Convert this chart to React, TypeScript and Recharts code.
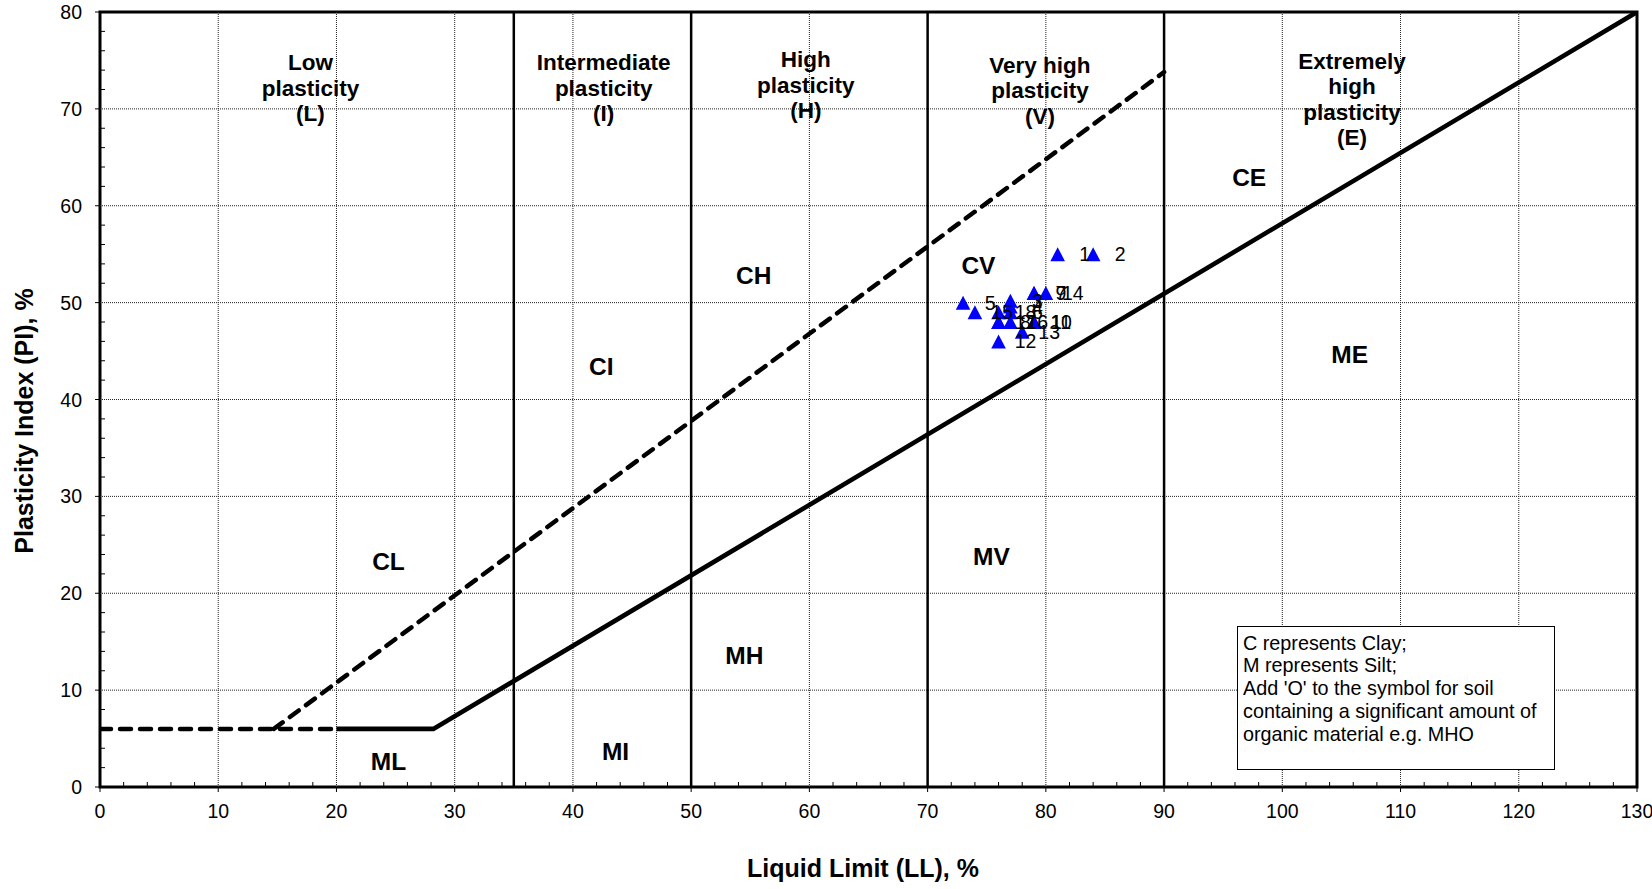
import React from 'react';
import {
  ComposedChart,
  XAxis,
  YAxis,
  Line,
  Scatter,
  ReferenceLine,
  ReferenceArea,
  Label,
} from 'recharts';

const W = 1652;
const H = 889;
const FONT = '"Liberation Sans", Arial, Helvetica, sans-serif';

// ---- axes ----
const xMajorTicks = [0, 10, 20, 30, 40, 50, 60, 70, 80, 90, 100, 110, 120, 130];
const yMajorTicks = [0, 10, 20, 30, 40, 50, 60, 70, 80];
const xAllTicks = Array.from({ length: 66 }, (_, i) => i * 2); // minor every 2
const yAllTicks = Array.from({ length: 41 }, (_, i) => i * 2);
const xGrid = [10, 20, 30, 40, 60, 80, 100, 110, 120];
const yGrid = [10, 20, 30, 40, 50, 60, 70];

// ---- plasticity zone boundaries (LL) ----
const zoneBoundaries = [35, 50, 70, 90];

// ---- chart lines (LL, PI) ----
const lowDashedLL = [0, 20];
const lowDashedPI = [6, 6];
const uLineLL = [14.7, 90];
const uLinePI = [6, 73.8];
const aLineLL = [20, 28.2, 130];
const aLinePI = [6, 6, 80];

// ---- samples ----
const sampleIds = [1, 2, 3, 4, 5, 6, 7, 8, 9, 10, 11, 12, 13, 14, 15, 16, 17, 18];
const sampleLL = [81, 84, 77, 77, 73, 77, 79, 76, 79, 79, 79, 76, 78, 80, 74, 77, 76, 76];
const samplePI = [55, 55, 50.2, 49.6, 50, 49, 51, 48, 51, 48, 48, 46, 47, 51, 49, 48, 48, 49];

// ---- zone headers ----
const headerText = [
  ['Low', 'plasticity', '(L)'],
  ['Intermediate', 'plasticity', '(I)'],
  ['High', 'plasticity', '(H)'],
  ['Very high', 'plasticity', '(V)'],
  ['Extremely', 'high', 'plasticity', '(E)'],
];
const headerLL = [17.8, 42.6, 59.7, 79.5, 105.9];
const headerPI = [72.2, 72.2, 72.5, 71.9, 71.0];

// ---- soil symbols ----
const symbolText = ['CL', 'ML', 'CI', 'MI', 'CH', 'MH', 'CV', 'MV', 'CE', 'ME'];
const symbolLL = [24.4, 24.4, 42.4, 43.6, 55.3, 54.5, 74.3, 75.4, 97.2, 105.7];
const symbolPI = [23.35, 2.68, 43.4, 3.7, 52.8, 13.6, 53.9, 23.8, 62.9, 44.7];

const noteLines = [
  'C represents Clay;',
  'M represents Silt;',
  "Add 'O' to the symbol for soil",
  'containing a significant amount of',
  'organic material e.g. MHO',
];

const toPts = (xs: number[], ys: number[]) => xs.map((x, i) => ({ ll: x, pi: ys[i] }));
const lowDashed = toPts(lowDashedLL, lowDashedPI);
const uLine = toPts(uLineLL, uLinePI);
const aLine = toPts(aLineLL, aLinePI);
const samples = sampleIds.map((id, i) => ({ id, ll: sampleLL[i], pi: samplePI[i] }));
const headers = headerText.map((lines, i) => ({ lines, ll: headerLL[i], pi: headerPI[i] }));
const symbols = symbolText.map((t, i) => ({ t, ll: symbolLL[i], pi: symbolPI[i] }));

const TICK_FS = 19.5;

const XTick = (props: any) => {
  const { x, y, payload } = props;
  const v = payload.value;
  if (v % 10 === 0) {
    return (
      <g>
        <line x1={x} y1={y} x2={x} y2={y + 5} stroke="#000" strokeWidth={1} />
        <text x={x} y={y + 31} textAnchor="middle" fontSize={TICK_FS} fontFamily={FONT} fill="#000">
          {v}
        </text>
      </g>
    );
  }
  return <line x1={x} y1={y} x2={x} y2={y - 5} stroke="#000" strokeWidth={1} />;
};

const YTick = (props: any) => {
  const { x, y, payload } = props;
  const v = payload.value;
  if (v % 10 === 0) {
    return (
      <g>
        <line x1={x - 5} y1={y} x2={x} y2={y} stroke="#000" strokeWidth={1} />
        <text x={x - 18} y={y + 7} textAnchor="end" fontSize={TICK_FS} fontFamily={FONT} fill="#000">
          {v}
        </text>
      </g>
    );
  }
  return <line x1={x} y1={y} x2={x + 5} y2={y} stroke="#000" strokeWidth={1} />;
};

const Triangle = (props: any) => {
  const { cx, cy } = props;
  if (cx == null || cy == null) return <g />;
  const w = 7.3;
  const h = 7;
  return (
    <polygon
      points={`${cx},${cy - h} ${cx + w},${cy + h} ${cx - w},${cy + h}`}
      fill="#0000FF"
      stroke="none"
    />
  );
};

const SampleLabel = (props: any) => {
  const { cx, cy, payload } = props;
  if (cx == null || cy == null) return <g />;
  return (
    <text x={cx + 27} y={cy + 7} textAnchor="middle" fontSize={TICK_FS} fontFamily={FONT} fill="#000">
      {payload.id}
    </text>
  );
};

const HeaderLabel = (props: any) => {
  const { cx, cy, payload } = props;
  if (cx == null || cy == null) return <g />;
  const lines: string[] = payload.lines;
  const n = lines.length;
  const sp = 25.5;
  return (
    <g>
      {lines.map((s, i) => (
        <text
          key={i}
          x={cx}
          y={cy + (i - (n - 1) / 2) * sp + 8}
          textAnchor="middle"
          fontSize={22.5}
          fontWeight="bold"
          fontFamily={FONT}
          fill="#000"
        >
          {s}
        </text>
      ))}
    </g>
  );
};

const SymbolLabel = (props: any) => {
  const { cx, cy, payload } = props;
  if (cx == null || cy == null) return <g />;
  return (
    <text
      x={cx}
      y={cy + 8.8}
      textAnchor="middle"
      fontSize={24.5}
      fontWeight="bold"
      fontFamily={FONT}
      fill="#000"
    >
      {payload.t}
    </text>
  );
};

export default function App() {
  return (
    <div style={{ position: 'absolute', left: 0, top: 0, width: W, height: H, background: '#fff' }}>
      <ComposedChart
        width={W}
        height={H}
        margin={{ top: 12, right: 15, bottom: 0, left: 0 }}
        style={{ fontFamily: FONT }}
      >
        <XAxis
          type="number"
          dataKey="ll"
          domain={[0, 130]}
          ticks={xAllTicks}
          interval={0}
          tick={<XTick />}
          tickLine={false}
          axisLine={false}
          tickSize={0}
          tickMargin={0}
          height={102}
          allowDataOverflow
        >
          <Label
            content={() => (
              <text
                x={863}
                y={877}
                textAnchor="middle"
                fontSize={25}
                fontWeight="bold"
                fontFamily={FONT}
                fill="#000"
              >
                Liquid Limit (LL), %
              </text>
            )}
          />
        </XAxis>
        <YAxis
          type="number"
          dataKey="pi"
          domain={[0, 80]}
          ticks={yAllTicks}
          interval={0}
          tick={<YTick />}
          tickLine={false}
          axisLine={false}
          tickSize={0}
          tickMargin={0}
          width={100}
          allowDataOverflow
        >
          <Label
            content={() => (
              <text
                x={24}
                y={421}
                transform="rotate(-90 24 421)"
                textAnchor="middle"
                dominantBaseline="central"
                fontSize={25}
                fontWeight="bold"
                fontFamily={FONT}
                fill="#000"
              >
                Plasticity Index (PI), %
              </text>
            )}
          />
        </YAxis>

        {xGrid.map((v) => (
          <ReferenceLine key={'gx' + v} x={v} stroke="#222" strokeWidth={1} strokeDasharray="1 1" />
        ))}
        {yGrid.map((v) => (
          <ReferenceLine key={'gy' + v} y={v} stroke="#222" strokeWidth={1} strokeDasharray="1 1" />
        ))}
        {zoneBoundaries.map((v) => (
          <ReferenceLine key={'zb' + v} x={v} stroke="#000" strokeWidth={2.5} />
        ))}

        <Line
          data={lowDashed}
          dataKey="pi"
          type="linear"
          stroke="#000"
          strokeWidth={4.5}
          strokeDasharray="11 9"
          strokeLinecap="round"
          dot={false}
          activeDot={false}
          isAnimationActive={false}
        />
        <Line
          data={uLine}
          dataKey="pi"
          type="linear"
          stroke="#000"
          strokeWidth={4.5}
          strokeDasharray="11 9"
          strokeLinecap="round"
          dot={false}
          activeDot={false}
          isAnimationActive={false}
        />
        <Line
          data={aLine}
          dataKey="pi"
          type="linear"
          stroke="#000"
          strokeWidth={4.6}
          dot={false}
          activeDot={false}
          isAnimationActive={false}
        />

        <Scatter data={headers} dataKey="pi" shape={<HeaderLabel />} isAnimationActive={false} />
        <Scatter data={symbols} dataKey="pi" shape={<SymbolLabel />} isAnimationActive={false} />
        <Scatter data={samples} dataKey="pi" shape={<Triangle />} isAnimationActive={false} />
        <Scatter data={samples} dataKey="pi" shape={<SampleLabel />} isAnimationActive={false} />

        <ReferenceArea
          x1={0}
          x2={130}
          y1={0}
          y2={80}
          fill="none"
          fillOpacity={0}
          stroke="#000"
          strokeWidth={3}
          ifOverflow="visible"
        />
      </ComposedChart>
      <div
        style={{
          position: 'absolute',
          left: 1237,
          top: 626,
          width: 318,
          height: 144,
          boxSizing: 'border-box',
          border: '1px solid #000',
          background: '#fff',
          padding: '4.5px 0 0 5px',
          fontFamily: FONT,
          fontSize: 19.8,
          lineHeight: '22.8px',
          color: '#000',
        }}
      >
        {noteLines.map((s, i) => (
          <div key={i} style={{ whiteSpace: 'nowrap' }}>
            {s}
          </div>
        ))}
      </div>
    </div>
  );
}
